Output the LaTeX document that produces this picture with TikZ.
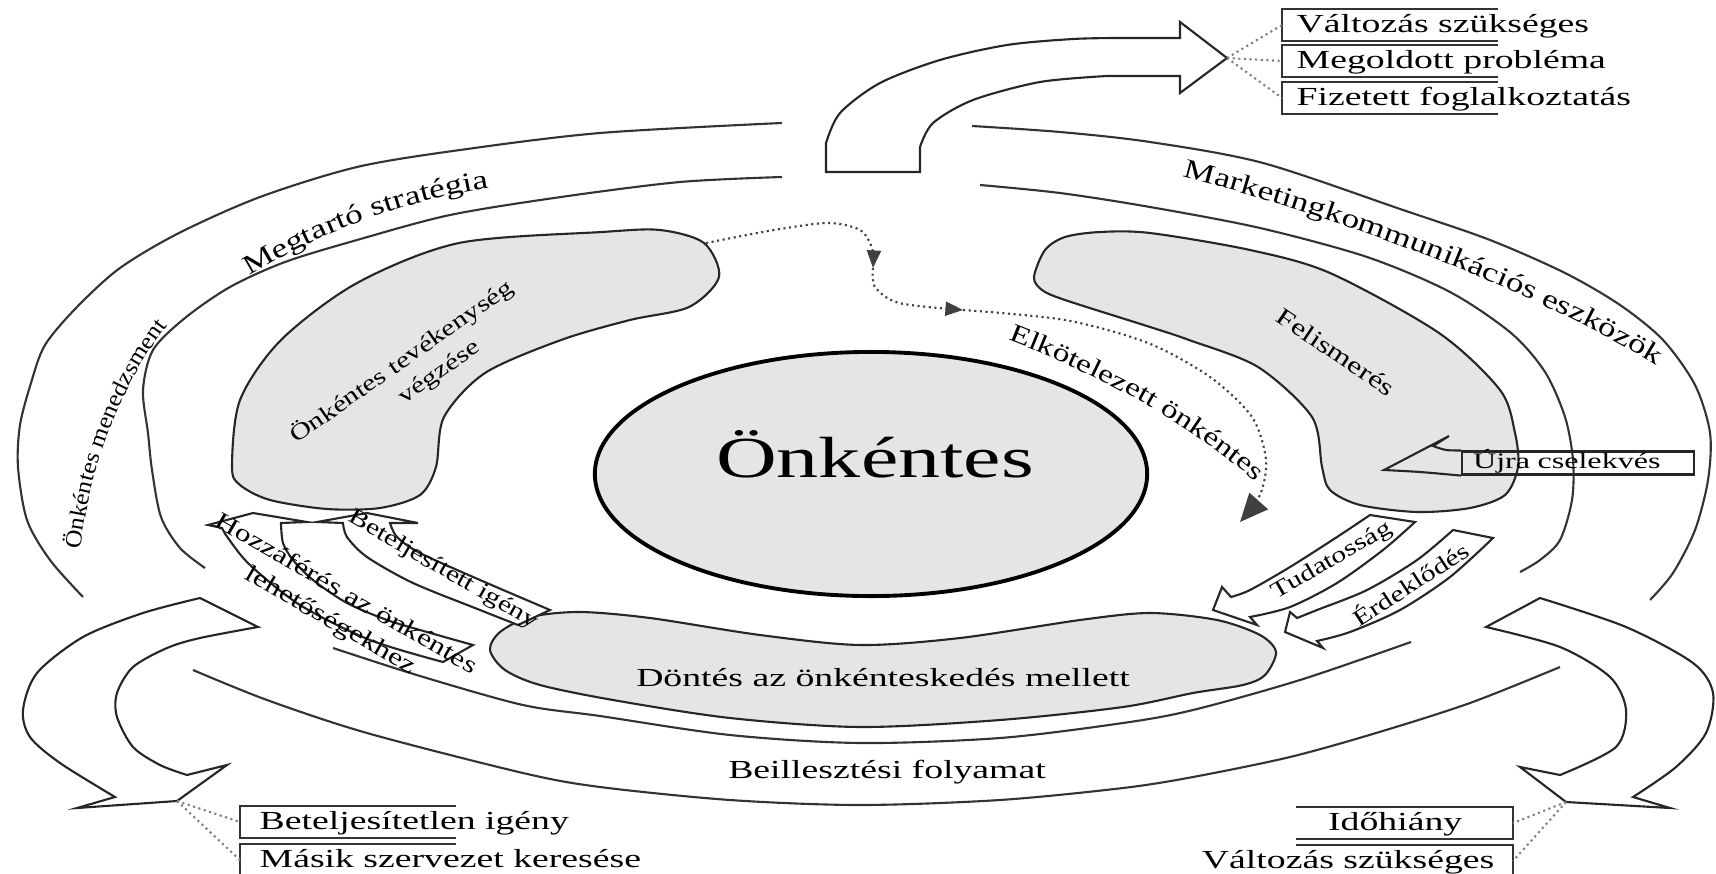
\documentclass[tikz,border=0pt]{standalone}
\usepackage{fontspec}
\setmainfont{Liberation Serif}
\newfontfamily\wideA[FakeStretch=1.45]{Liberation Serif}
\newfontfamily\wideB[FakeStretch=1.3]{Liberation Serif}
\newfontfamily\wideC[FakeStretch=1.1]{Liberation Serif}
\usetikzlibrary{shapes.geometric,arrows.meta,calc,decorations.text}

\tikzset{
  ring/.style={draw=black!80, line width=0.6pt},
  blob/.style={draw=black!85, line width=0.6pt, fill=black!10},
  barrow/.style={draw=black!85, line width=0.6pt, fill=white},
  dotcon/.style={draw=black!50, densely dotted, line width=0.6pt},
  lbl/.style={inner sep=0pt, font=\wideB\fontsize{6.5}{8.4}\selectfont},
  mainlbl/.style={inner sep=0pt, font=\wideA\fontsize{7.4}{9}\selectfont},
  boxl/.style={font=\wideA\fontsize{7.4}{9}\selectfont, inner ysep=0pt, minimum height=0.30cm, text height=5.5pt, text depth=1.5pt},
  arclbl/.style={decorate, decoration={text along path, text align=center, text={#1}}}
}

\begin{document}
\begin{tikzpicture}[x=0.01cm, y=-0.01cm]
\useasboundingbox (0,0) rectangle (1716,873);

\draw[ring] plot[smooth] coordinates {(782,123) (600,133) (460,150) (357,167) (260,197) (179,233) (120,268) (77,307) (45,345) (31,383) (20,425) (18,467) (27,520) (50,560) (83,597)};
\draw[ring] plot[smooth] coordinates {(782,177) (680,182) (561,197) (450,215) (357,240) (285,262) (230,287) (185,318) (153,350) (143,390) (148,433) (152,470) (161,517) (180,548) (205,568)};
\draw[ring] plot[smooth] coordinates {(972,126) (1060,132) (1150,142) (1263,163) (1403,210) (1490,240) (1565,273) (1620,305) (1663,340) (1695,385) (1710,433) (1708,480) (1695,530) (1673,573) (1650,600)};
\draw[ring] plot[smooth] coordinates {(980,185) (1060,193) (1150,207) (1260,228) (1367,257) (1450,292) (1511,333) (1545,372) (1565,417) (1573,460) (1572,500) (1560,540) (1540,560) (1520,572)};
\draw[ring] plot[smooth] coordinates {(333,648) (420,676) (523,705) (600,716) (730,735) (860,743) (1000,738) (1123,723) (1193,710) (1300,680) (1411,642)};
\draw[ring] plot[smooth] coordinates {(193,670) (267,700) (367,733) (523,773) (600,787) (730,800) (860,805) (1000,800) (1123,788) (1193,777) (1290,757) (1376,733) (1470,703) (1560,667)};

\draw[blob] plot[smooth cycle] coordinates {(602,232) (660,230) (704,243) (719,277) (689,307) (630,320) (561,340) (485,373) (444,417) (436,467) (420,495) (380,508) (327,509) (270,500) (240,485) (232,467) (240,400) (281,340) (357,283) (459,243)};
\draw[blob] plot[smooth cycle] coordinates {(1034,277) (1045,250) (1065,237) (1100,232) (1150,233) (1250,250) (1330,273) (1439,333) (1500,390) (1515,433) (1518,467) (1505,495) (1470,508) (1417,512) (1360,505) (1330,490) (1322,467) (1312,417) (1258,367) (1189,340) (1150,327) (1065,300) (1042,290)};
\draw[blob] plot[smooth cycle] coordinates {(490,650) (500,632) (530,617) (580,612) (650,618) (760,635) (860,645) (960,638) (1080,620) (1150,613) (1217,620) (1260,635) (1276,652) (1265,675) (1243,685) (1193,693) (1123,707) (1000,720) (860,727) (730,718) (613,700) (540,685) (505,670)};

\node[ellipse, draw=black, line width=1.1pt, fill=black!10, minimum width=5.52cm, minimum height=2.44cm] (vol) at (871,474) {};
\node[inner sep=0pt, font=\wideA\fontsize{16.5}{20}\selectfont] (voltxt) at (875,454) {Önkéntes};

\draw[barrow] (826,172) -- plot[smooth] coordinates {(826,143) (840,113) (880,83) (940,60) (1007,45) (1073,39) (1120,38)} -- (1180,38) -- (1180,22) -- (1227,58) -- (1180,93) -- (1180,76) -- plot[smooth] coordinates {(1107,76) (1040,82) (973,100) (933,123) (920,147)} -- (920,172) -- cycle;

\draw[barrow] (200,598) -- (258,627) -- plot[smooth] coordinates {(258,627) (200,638) (167,648) (133,667) (117,693) (117,717) (133,747) (160,765) (187,775)} -- (227,765) -- (177,801) -- (77,808) -- (115,797) -- plot[smooth] coordinates {(115,797) (60,763) (30,737) (23,710) (37,673) (83,637) (143,613) (200,598)} -- cycle;
\draw[barrow] (1540,598) -- (1486,627) -- plot[smooth] coordinates {(1486,627) (1560,647) (1610,677) (1626,710) (1616,747) (1560,775)} -- (1520,767) -- (1566,802) -- (1670,808) -- (1633,797) -- plot[smooth] coordinates {(1633,797) (1676,767) (1706,733) (1713,693) (1693,663) (1626,627) (1540,598)} -- cycle;

\draw[barrow] (473,645) -- (443,662) -- plot[smooth] coordinates {(443,662) (370,640) (300,605) (250,565) (228,538) (222,528)} -- (208,525) -- (253,513) -- (307,522) -- (281,523) -- plot[smooth] coordinates {(281,523) (283,543) (293,560) (313,580) (347,603) (387,620) (427,632) (473,645)} -- cycle;
\draw[barrow] (550,610) -- (518,625) -- plot[smooth] coordinates {(518,625) (480,610) (413,583) (367,557) (347,537) (343,523)} -- (317,522) -- (367,513) -- (418,523) -- (390,523) -- plot[smooth] coordinates {(390,523) (397,537) (420,553) (480,580) (550,610)} -- cycle;

\draw[barrow] (1370,515) -- (1415,522) -- plot[smooth] coordinates {(1415,522) (1383,550) (1337,583) (1290,607) (1250,617)} -- (1257,625) -- (1213,610) -- (1222,587) -- (1231,597) -- plot[smooth] coordinates {(1231,597) (1250,590) (1290,567) (1337,537) (1370,515)} -- cycle;
\draw[barrow] (1453,530) -- (1493,538) -- plot[smooth] coordinates {(1493,538) (1450,577) (1400,610) (1350,632) (1317,641)} -- (1323,648) -- (1285,632) -- (1290,612) -- (1297,618) -- plot[smooth] coordinates {(1297,618) (1317,610) (1367,590) (1417,560) (1453,530)} -- cycle;

\node[draw=black!85, line width=0.6pt, anchor=west, inner xsep=0.11cm, inner ysep=0pt, text width=2.1cm, align=left, minimum height=0.23cm, text height=4.6pt, text depth=1.4pt, font=\wideA\fontsize{6.3}{7}\selectfont] (again) at (1461,463) {Újra cselekvés};
\draw[barrow, fill=none] (again.north west) -- plot[smooth] coordinates {(again.north west) (1446,450) (1433,446)} -- (1449,436) -- (1384,470) -- plot[smooth] coordinates {(1384,470) (1420,472) (again.south west)};

\coordinate (dotstart) at (706,243);
\coordinate (mid1) at (873,268);
\coordinate (mid2) at (963,310);
\coordinate (dotend) at (1240,522);
\draw[dotcon, draw=black!75, -{Triangle[width=4pt,length=5pt]}] plot[smooth] coordinates {(dotstart) (774,230) (828,223) (860,230) (872,248) (mid1)};
\draw[dotcon, draw=black!75, -{Triangle[width=4pt,length=5pt]}] plot[smooth] coordinates {(mid1) (875,287) (899,303) (mid2)};
\draw[dotcon, draw=black!75, -{Triangle[width=7pt,length=8pt]}] plot[smooth] coordinates {(mid2) (1065,320) (1148,343) (1210,377) (1252,417) (1266,460) (1260,495) (dotend)};

\begin{scope}[every node/.style={boxl, anchor=west, inner xsep=0.14cm}]
  \node (chg1) at (1282,25) {Változás szükséges};
  \node (solved) at (1282,61) {Megoldott probléma};
  \node (paid) at (1282,98) {Fizetett foglalkoztatás};
  \node[inner xsep=0.19cm] (unmet) at (240,822) {Beteljesítetlen igény};
  \node[inner xsep=0.19cm] (other) at (240,860) {Másik szervezet keresése};
\end{scope}
\begin{scope}[every node/.style={boxl, anchor=east}]
  \node[inner xsep=0.5cm] (short) at (1513,823) {Időhiány};
  \node[inner xsep=0.18cm] (chg2) at (1513,861) {Változás szükséges};
\end{scope}
\foreach \n in {chg1,solved,paid,unmet,other}
  \draw[ring] ($(\n.north west)+(216,0)$) -- (\n.north west) -- (\n.south west) -- ($(\n.south west)+(216,0)$);
\foreach \n in {short,chg2}
  \draw[ring] ($(\n.north east)+(-217,0)$) -- (\n.north east) -- (\n.south east) -- ($(\n.south east)+(-217,0)$);

\coordinate (toptip) at (1227,58);
\coordinate (bltip) at (177,801);
\coordinate (brtip) at (1566,802);
\path (toptip) edge[dotcon] (chg1.west) edge[dotcon] (solved.west) edge[dotcon] (paid.west);
\path (bltip) edge[dotcon] (unmet.west) edge[dotcon] (other.west);
\path (brtip) edge[dotcon] (short.east) edge[dotcon] (chg2.east);

\node[lbl, rotate=35, align=center] (doing) at (410,374) {Önkéntes tevékenység\\\hspace*{0.5cm}végzése};
\node[lbl, font=\wideB\fontsize{6.9}{8}\selectfont, rotate=-34] (recog) at (1336,352) {Felismerés};
\node[mainlbl] (decide) at (883,678) {Döntés az önkénteskedés mellett};
\node[mainlbl] (fit) at (887,772) {Beillesztési folyamat};
\node[lbl, rotate=-30] (met) at (443,570) {Beteljesített igény};
\node[lbl, font=\wideB\fontsize{6.9}{8.8}\selectfont, rotate=-30, align=center] (access) at (338,608) {Hozzáférés az önkéntes\\lehetőségekhez};
\node[lbl, rotate=30] (aware) at (1332,561) {Tudatosság};
\node[lbl, rotate=33] (interest) at (1410,583) {Érdeklődés};

\path[arclbl={|\wideB\fontsize{7.7}{9}\selectfont|Megtartó stratégia}] (240,282) .. controls (310,237) and (400,200) .. (500,186);
\path[arclbl={|\wideC\fontsize{6.6}{8}\selectfont|Önkéntes menedzsment}] (74,606) .. controls (84,486) and (108,384) .. (204,282);
\path[arclbl={|\wideB\fontsize{7.7}{9}\selectfont|Marketingkommunikációs eszközök}] (1165,172) .. controls (1330,213) and (1545,293) .. (1672,375);
\path[arclbl={|\wideB\fontsize{7.3}{9}\selectfont|Elkötelezett önkéntes}] (990,333) .. controls (1090,370) and (1190,420) .. (1270,495);
\end{tikzpicture}
\end{document}
